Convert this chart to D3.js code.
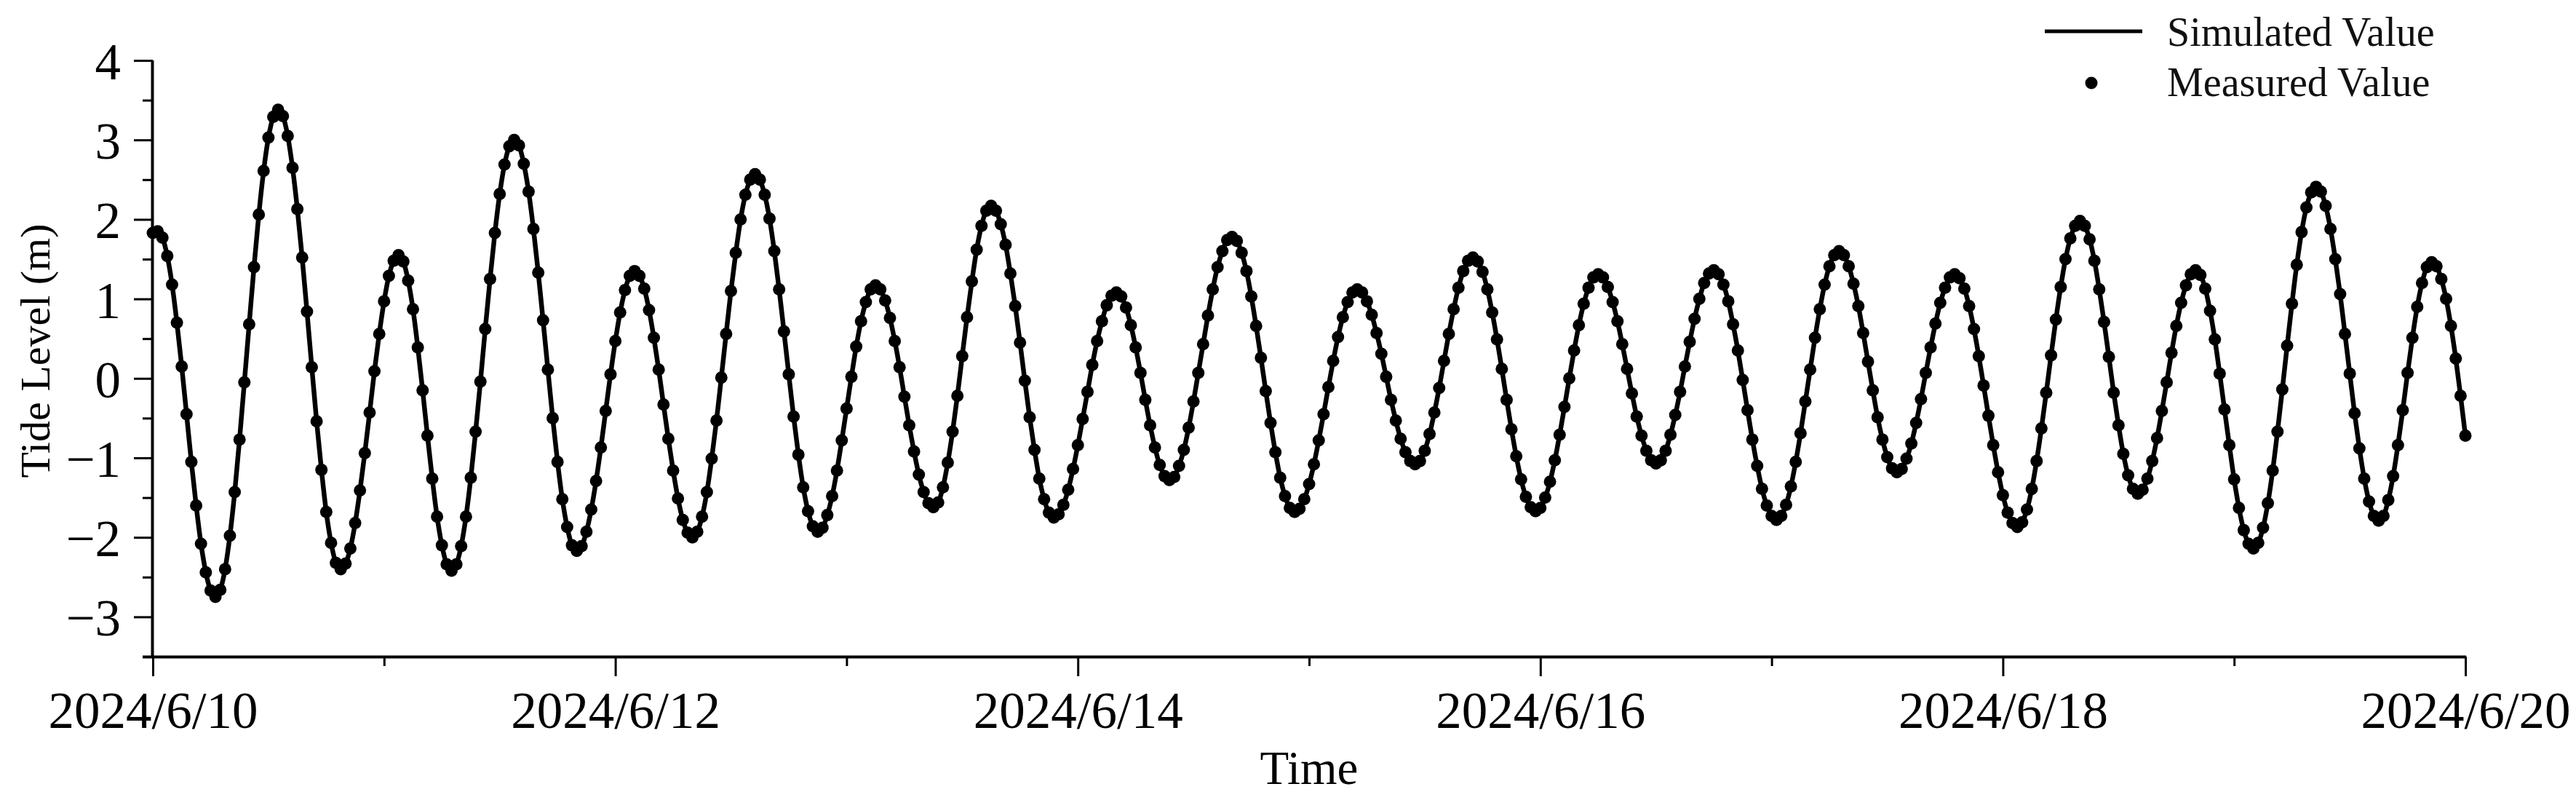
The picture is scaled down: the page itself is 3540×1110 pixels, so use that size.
<!DOCTYPE html>
<html><head><meta charset="utf-8">
<script src="https://cdn.jsdelivr.net/npm/d3@7"></script>
<style>html,body{margin:0;padding:0;background:#fff;} svg{display:block;}</style>
</head><body>
<svg id="chart" width="3540" height="1110"></svg>
<script>
// ---------- data ----------
const startTime = "2024-06-10T00:00:00";
const endTime = "2024-06-20T00:00:00";
const sampleMinutes = 30;               // half-hourly readings
const seriesNames = ["Simulated Value", "Measured Value"];
const yMajorTicks = [-3, -2, -1, 0, 1, 2, 3, 4];
const yMinorTicks = [-3.5, -2.5, -1.5, -0.5, 0.5, 1.5, 2.5, 3.5];
const xLabelDates = ["2024-06-10", "2024-06-12", "2024-06-14", "2024-06-16", "2024-06-18", "2024-06-20"];
const xMinorDates = ["2024-06-11", "2024-06-13", "2024-06-15", "2024-06-17", "2024-06-19"];
const axisTitles = ["Time", "Tide Level (m)"];

// tide level (m), one value every 30 min from 2024/6/10 00:00 to 2024/6/20 00:00
const simulatedLevel = [
  1.83, 1.85, 1.77, 1.54, 1.18, 0.70, 0.15, -0.45, -1.05, -1.60, -2.08, -2.44, -2.67,
  -2.75, -2.66, -2.40, -1.98, -1.43, -0.77, -0.05, 0.68, 1.40, 2.06, 2.61, 3.03, 3.29,
  3.38, 3.30, 3.05, 2.65, 2.13, 1.52, 0.84, 0.14, -0.54, -1.15, -1.68, -2.07, -2.32,
  -2.40, -2.33, -2.14, -1.82, -1.41, -0.94, -0.43, 0.09, 0.56, 0.97, 1.29, 1.48,
  1.55, 1.47, 1.23, 0.87, 0.39, -0.15, -0.72, -1.26, -1.74, -2.10, -2.34,
  -2.42, -2.34, -2.11, -1.74, -1.25, -0.67, -0.04, 0.62, 1.25, 1.83, 2.32, 2.69, 2.92,
  3.00, 2.93, 2.70, 2.35, 1.88, 1.33, 0.73, 0.11, -0.50, -1.05, -1.52, -1.87, -2.10,
  -2.17, -2.11, -1.93, -1.65, -1.29, -0.87, -0.41, 0.05, 0.47, 0.83, 1.11, 1.29,
  1.35, 1.29, 1.13, 0.86, 0.51, 0.11, -0.33, -0.76, -1.16, -1.51, -1.78, -1.94,
  -2.00, -1.93, -1.74, -1.43, -1.01, -0.53, 0.01, 0.56, 1.10, 1.58, 2.00, 2.31, 2.50,
  2.57, 2.50, 2.31, 2.01, 1.60, 1.12, 0.59, 0.05, -0.48, -0.96, -1.37, -1.67, -1.86,
  -1.93, -1.88, -1.72, -1.48, -1.16, -0.78, -0.38, 0.02, 0.40, 0.72, 0.96, 1.12,
  1.17, 1.12, 0.98, 0.76, 0.47, 0.14, -0.23, -0.59, -0.92, -1.21, -1.43, -1.57,
  -1.62, -1.56, -1.37, -1.06, -0.67, -0.22, 0.28, 0.77, 1.22, 1.62, 1.92, 2.11,
  2.17, 2.11, 1.94, 1.68, 1.32, 0.91, 0.45, -0.03, -0.49, -0.90, -1.26, -1.52, -1.69,
  -1.75, -1.71, -1.59, -1.40, -1.14, -0.84, -0.51, -0.17, 0.17, 0.47, 0.72, 0.92, 1.04,
  1.08, 1.03, 0.89, 0.67, 0.39, 0.07, -0.27, -0.59, -0.87, -1.09, -1.23,
  -1.28, -1.24, -1.10, -0.90, -0.62, -0.29, 0.07, 0.43, 0.79, 1.12, 1.40, 1.60, 1.74,
  1.78, 1.73, 1.58, 1.35, 1.03, 0.66, 0.26, -0.16, -0.56, -0.93, -1.25, -1.48, -1.63,
  -1.68, -1.64, -1.52, -1.33, -1.08, -0.78, -0.45, -0.11, 0.22, 0.52, 0.77, 0.96, 1.08,
  1.12, 1.08, 0.97, 0.80, 0.57, 0.31, 0.02, -0.27, -0.53, -0.76, -0.93, -1.04,
  -1.08, -1.04, -0.91, -0.70, -0.43, -0.12, 0.22, 0.56, 0.87, 1.14, 1.35, 1.48,
  1.52, 1.47, 1.34, 1.12, 0.83, 0.49, 0.12, -0.27, -0.64, -0.98, -1.27, -1.49, -1.62,
  -1.67, -1.63, -1.50, -1.30, -1.03, -0.71, -0.36, 0.00, 0.35, 0.67, 0.94, 1.14, 1.27,
  1.31, 1.27, 1.15, 0.96, 0.72, 0.43, 0.12, -0.19, -0.48, -0.72, -0.91, -1.03,
  -1.07, -1.03, -0.91, -0.71, -0.46, -0.17, 0.15, 0.46, 0.75, 1.00, 1.20, 1.32,
  1.36, 1.31, 1.18, 0.97, 0.68, 0.35, -0.02, -0.40, -0.77, -1.10, -1.39, -1.60, -1.73,
  -1.78, -1.73, -1.59, -1.36, -1.05, -0.69, -0.29, 0.11, 0.51, 0.87, 1.18, 1.41, 1.55,
  1.60, 1.55, 1.41, 1.19, 0.91, 0.57, 0.21, -0.15, -0.49, -0.77, -0.99, -1.13,
  -1.18, -1.14, -1.01, -0.82, -0.56, -0.26, 0.07, 0.39, 0.69, 0.95, 1.14, 1.27,
  1.31, 1.26, 1.13, 0.91, 0.62, 0.28, -0.09, -0.47, -0.84, -1.18, -1.47, -1.69, -1.82,
  -1.87, -1.81, -1.65, -1.39, -1.04, -0.63, -0.18, 0.29, 0.74, 1.15, 1.50, 1.76, 1.92,
  1.98, 1.92, 1.75, 1.48, 1.12, 0.71, 0.27, -0.18, -0.59, -0.95, -1.22, -1.39,
  -1.45, -1.40, -1.26, -1.04, -0.75, -0.41, -0.05, 0.32, 0.66, 0.95, 1.17, 1.31,
  1.36, 1.30, 1.13, 0.85, 0.49, 0.06, -0.39, -0.84, -1.27, -1.63, -1.91, -2.08,
  -2.14, -2.07, -1.88, -1.57, -1.16, -0.67, -0.14, 0.41, 0.94, 1.43, 1.84, 2.15, 2.34,
  2.41, 2.35, 2.17, 1.88, 1.50, 1.06, 0.56, 0.06, -0.44, -0.88, -1.26, -1.55, -1.73,
  -1.79, -1.73, -1.53, -1.23, -0.84, -0.40, 0.07, 0.51, 0.90, 1.20, 1.40,
  1.46, 1.41, 1.25, 1.00, 0.66, 0.25, -0.22, -0.72
];
// measured readings sit on the simulated curve at this resolution
const measuredLevel = simulatedLevel.slice();

// ---------- layout ----------
const W = 3540, H = 1110;
const plot = {left: 210, right: 3388, top: 83, bottom: 902};
const FONT = "'Liberation Serif', 'Times New Roman', Times, serif";

const svg = d3.select("#chart");
svg.append("rect").attr("width", W).attr("height", H).attr("fill", "#fff");

const t0 = new Date(startTime), t1 = new Date(endTime);
const timeAt = i => new Date(t0.getTime() + i * sampleMinutes * 60000);
const parseDay = d3.timeParse("%Y-%m-%d");

const x = d3.scaleTime().domain([t0, t1]).range([plot.left, plot.right]);
const y = d3.scaleLinear().domain([-3.5, 4]).range([plot.bottom, plot.top]);

// ---------- axes ----------
const fmt = d3.timeFormat("%Y/%-m/%-d");
const gx = svg.append("g").attr("transform", `translate(0,${plot.bottom})`);
gx.call(d3.axisBottom(x).tickValues(xLabelDates.map(parseDay)).tickFormat(fmt)
  .tickSize(27).tickSizeOuter(0).tickPadding(21));
const gxm = svg.append("g").attr("transform", `translate(0,${plot.bottom})`);
gxm.call(d3.axisBottom(x).tickValues(xMinorDates.map(parseDay)).tickFormat(() => "")
  .tickSize(13).tickSizeOuter(0));
gxm.select(".domain").remove();

const gy = svg.append("g").attr("transform", `translate(${plot.left},0)`);
gy.call(d3.axisLeft(y).tickValues(yMajorTicks).tickFormat(d3.format("d"))
  .tickSize(26).tickSizeOuter(0).tickPadding(18));
const gym = svg.append("g").attr("transform", `translate(${plot.left},0)`);
gym.call(d3.axisLeft(y).tickValues(yMinorTicks).tickFormat(() => "")
  .tickSize(14).tickSizeOuter(0));
gym.select(".domain").remove();

[gx, gxm, gy, gym].forEach(g => {
  g.selectAll(".domain").attr("stroke", "#000").attr("stroke-width", 4);
  g.selectAll(".tick line").attr("stroke", "#000").attr("stroke-width", 3);
  g.selectAll(".tick text").attr("fill", "#000")
    .style("font-family", FONT).style("font-size", "71px");
});
gy.selectAll(".tick text").attr("dy", "0.36em");
// extend axis lines slightly to close the corner
gx.select(".domain").attr("d", `M${plot.left - 14},0.5H${plot.right + 1}`);
gy.select(".domain").attr("d", `M-0.5,${plot.top}V${plot.bottom + 2}`);

// axis titles
svg.append("text").text(axisTitles[0])
  .attr("x", (plot.left + plot.right) / 2).attr("y", 1077)
  .attr("text-anchor", "middle").attr("fill", "#000")
  .style("font-family", FONT).style("font-size", "65px");
svg.append("text").text(axisTitles[1])
  .attr("transform", "translate(68,482) rotate(-90)")
  .attr("text-anchor", "middle").attr("fill", "#000")
  .style("font-family", FONT).style("font-size", "58px");

// ---------- series ----------
const line = d3.line()
  .x((d, i) => x(timeAt(i)))
  .y(d => y(d))
  .curve(d3.curveMonotoneX);

svg.append("path").datum(simulatedLevel)
  .attr("d", line).attr("fill", "none")
  .attr("stroke", "#000").attr("stroke-width", 6.5)
  .attr("stroke-linejoin", "round");

svg.append("g").selectAll("circle").data(measuredLevel).join("circle")
  .attr("cx", (d, i) => x(timeAt(i)))
  .attr("cy", d => y(d))
  .attr("r", 8.5).attr("fill", "#000");

// ---------- legend ----------
const lg = svg.append("g");
lg.append("line").attr("x1", 2810).attr("x2", 2944).attr("y1", 43).attr("y2", 43)
  .attr("stroke", "#000").attr("stroke-width", 5);
lg.append("circle").attr("cx", 2874).attr("cy", 114).attr("r", 8.5).attr("fill", "#000");
lg.selectAll("text").data(seriesNames).join("text")
  .text(d => d)
  .attr("x", 2978).attr("y", (d, i) => i === 0 ? 63 : 132)
  .attr("fill", "#111")
  .style("font-family", FONT).style("font-size", "56px");
</script>
</body></html>
